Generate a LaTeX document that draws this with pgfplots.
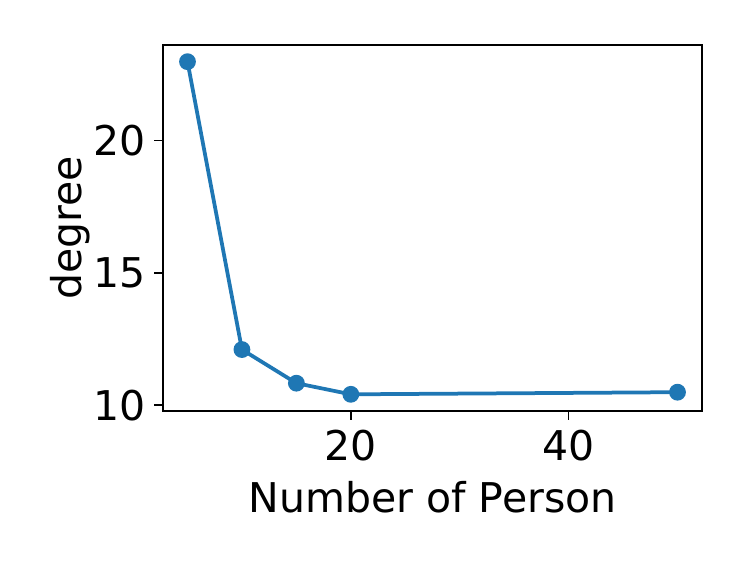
\documentclass[border=0pt]{standalone}
\usepackage{fontspec}
\setmainfont{DejaVu Sans}
\usepackage{pgfplots}
\pgfplotsset{compat=1.18}
\definecolor{c0}{HTML}{1F77B4}
\begin{document}
\begin{tikzpicture}
% 1 px of the reference = 0.4pt
\path[use as bounding box] (-65.2pt,-60pt) rectangle (233.6pt,164.4pt);
\begin{axis}[
scale only axis,
width=215.6pt, height=146.4pt,
xmin=2.75, xmax=52.25,
ymin=9.78, ymax=23.6,
xtick={20,40}, ytick={10,15,20},
tick align=outside, tick pos=left,
major tick length=3.5pt,
axis line style={line width=0.6pt},
every tick/.style={black, line width=0.6pt},
/pgf/number format/assume math mode=true,
tick label style={font=\fontsize{16.4}{19}\selectfont},
xticklabel style={yshift=-0.5pt},
yticklabel style={xshift=0pt},
xlabel={Number of Person},
ylabel={degree},
label style={font=\fontsize{16.4}{19}\selectfont},
xlabel style={at={(axis description cs:0.5,-0.276)}, anchor=base},
ylabel style={at={(axis description cs:-0.152,0.5)}, anchor=base},
]
\addplot [c0, line width=1.5pt, mark=*, mark size=2.6pt, mark options={solid, fill=c0, draw=c0}]
coordinates {
(5,22.97)
(10,12.1)
(15,10.83)
(20,10.41)
(50,10.49)
};
\end{axis}
\end{tikzpicture}
\end{document}
